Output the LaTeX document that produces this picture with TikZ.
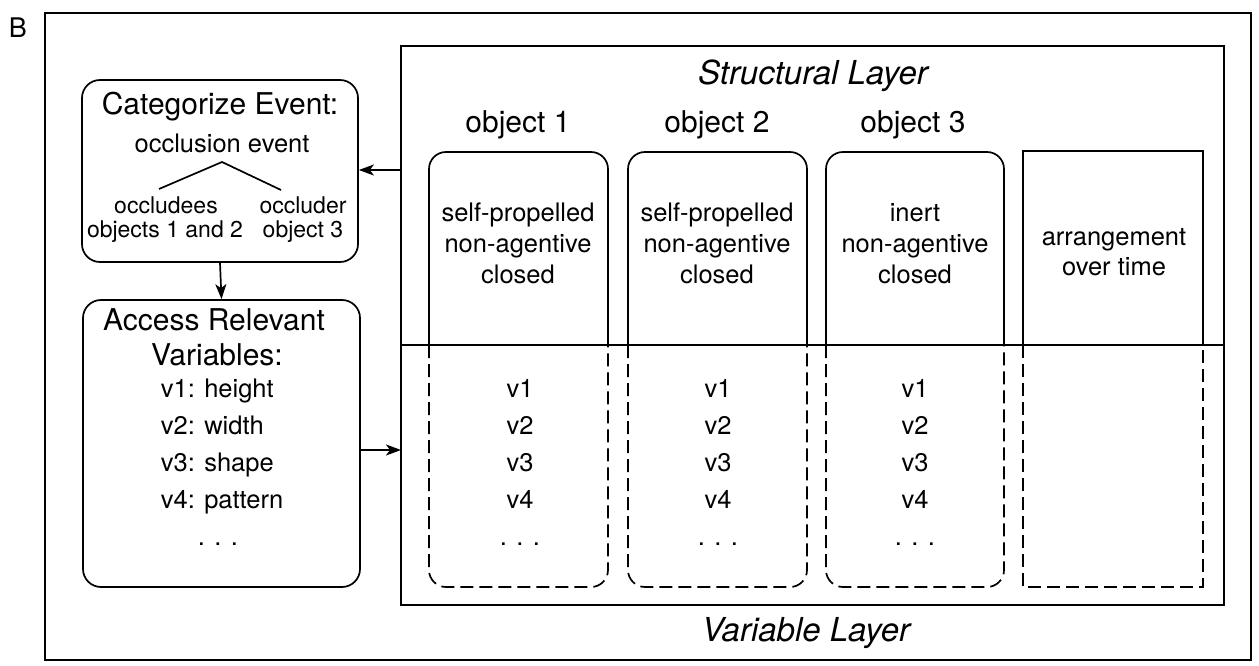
\documentclass[tikz,border=0pt]{standalone}
\usepackage{fontspec}
\setmainfont{TeX Gyre Heros}
\usetikzlibrary{calc,arrows.meta,positioning}

\begin{document}
\begin{tikzpicture}[x=1pt,y=-1pt,line width=1.7pt,
    arr/.style={-{Stealth[length=15pt,width=11pt,inset=4pt]}},
    body/.style={anchor=base,inner sep=0pt,font=\fontsize{25.5}{30}\selectfont},
    small/.style={anchor=base,inner sep=0pt,font=\fontsize{23}{27}\selectfont},
    head/.style={anchor=base,inner sep=0pt,font=\fontsize{30}{36}\selectfont},
    layer/.style={anchor=base,inner sep=0pt,font=\fontsize{33}{40}\selectfont\itshape},
    rbox/.style={draw,rounded corners=18pt,inner sep=0pt},
    vdash/.style={dash pattern=on 13pt off 6pt}]
        \useasboundingbox (0,0) rectangle (1259,666);
        % outer frame
        \draw[line width=2.2pt] (45,13) rectangle (1251,660);
        \node[anchor=base,inner sep=0pt,font=\fontsize{27}{32}\selectfont] (lblB) at (18,38) {B};
        % left boxes
        \node[rbox,minimum width=276pt,minimum height=182pt] (cat) at (220,171) {};
        \node[rbox,minimum width=277pt,minimum height=287pt] (acc) at (221.5,443.5) {};
        \node[head] (catT) at (220,115) {Categorize Event:};
        \node[body] (occ) at (222,153) {occlusion event};
        \node[small] (occA) at (166,213) {occludees};
        \node[small] (occB) at (165,237) {objects 1 and 2};
        \node[small] (occC) at (303,213) {occluder};
        \node[small] (occD) at (303,237) {object 3};
        \coordinate (apex) at (222,162);
        \coordinate (tl) at (159,189);
        \coordinate (tr) at (281,190);
        \draw (tl) -- (apex) -- (tr);
        \node[head] (accT) at (214,330) {Access Relevant};
        \node[head] (accU) at (217,365) {Variables:};
        \node[body,anchor=base west] (va) at (160,397) {v1: height};
        \node[body,anchor=base west] (vb) at (160,434) {v2: width};
        \node[body,anchor=base west] (vc) at (160,471) {v3: shape};
        \node[body,anchor=base west] (vd) at (160,508) {v4: pattern};
        \node[body] (ve) at (218,545) {. . .};
        % layer frame
        \node[draw,minimum width=823pt,minimum height=559pt,inner sep=0pt] (layers) at (812.5,325.5) {};
        \coordinate (divL) at (401,345);
        \coordinate (divR) at (1224,345);
        \draw (divL) -- (divR);
        \node[layer] (structT) at (813,85) {Structural Layer};
        \node[layer] (varT) at (806,641) {Variable Layer};
        % arrows
        \coordinate (inA) at (401,170);
        \coordinate (inB) at (401,450);
        \draw[arr] (inA) -- (inA -| cat.east);
        \draw[arr] (cat.south) -- (acc.north);
        \draw[arr] (inB -| acc.east) -- (inB);
        % object 1
        \node[head] (ob1) at (518,133) {object 1};
        \draw[rounded corners=17pt] (429,345) |- (608,152) -- (608,345);
        \draw[vdash,rounded corners=17pt] (429,345) |- (608,587) -- (608,345);
        \node[body] (s1a) at (518,222) {self-propelled};
        \node[body] (s1b) at (518,252) {non-agentive};
        \node[body] (s1c) at (518,283) {closed};
        \node[body] (v1a) at (520,397) {v1};
        \node[body] (v1b) at (520,434) {v2};
        \node[body] (v1c) at (520,471) {v3};
        \node[body] (v1d) at (520,508) {v4};
        \node[body] (v1e) at (520,545) {. . .};
        % object 2
        \node[head] (ob2) at (717,133) {object 2};
        \draw[rounded corners=17pt] (628,345) |- (807,152) -- (807,345);
        \draw[vdash,rounded corners=17pt] (628,345) |- (807,587) -- (807,345);
        \node[body] (s2a) at (717,222) {self-propelled};
        \node[body] (s2b) at (717,252) {non-agentive};
        \node[body] (s2c) at (717,283) {closed};
        \node[body] (v2a) at (718,397) {v1};
        \node[body] (v2b) at (718,434) {v2};
        \node[body] (v2c) at (718,471) {v3};
        \node[body] (v2d) at (718,508) {v4};
        \node[body] (v2e) at (718,545) {. . .};
        % object 3
        \node[head] (ob3) at (913,133) {object 3};
        \draw[rounded corners=17pt] (826,345) |- (1004,152) -- (1004,345);
        \draw[vdash,rounded corners=17pt] (826,345) |- (1004,587) -- (1004,345);
        \node[body] (s3a) at (915,222) {inert};
        \node[body] (s3b) at (915,252) {non-agentive};
        \node[body] (s3c) at (915,283) {closed};
        \node[body] (v3a) at (915,397) {v1};
        \node[body] (v3b) at (915,434) {v2};
        \node[body] (v3c) at (915,471) {v3};
        \node[body] (v3d) at (915,508) {v4};
        \node[body] (v3e) at (915,545) {. . .};
        % arrangement
        \draw (1023,345) |- (1203,151) -- (1203,345);
        \draw[vdash] (1023,345) |- (1203,587) -- (1203,345);
        \node[body] (arrA) at (1114,245) {arrangement};
        \node[body] (arrB) at (1114,275) {over time};
\end{tikzpicture}
\end{document}
